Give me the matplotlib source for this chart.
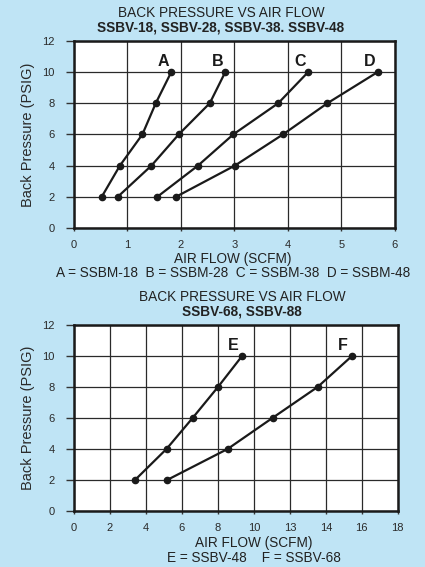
import matplotlib
matplotlib.use("Agg")
import matplotlib.pyplot as plt

plt.rcParams['font.family'] = ['Liberation Sans', 'DejaVu Sans']

# top chart data (SCFM vs PSIG)
pressure = [2, 4, 6, 8, 10]
flow_a = [0.52, 0.86, 1.28, 1.53, 1.82]
flow_b = [0.82, 1.45, 1.96, 2.54, 2.83]
flow_c = [1.56, 2.32, 2.98, 3.82, 4.38]
flow_d = [1.91, 3.01, 3.91, 4.74, 5.68]
top_series = [("A", flow_a), ("B", flow_b), ("C", flow_c), ("D", flow_d)]
top_xticks = [0, 1, 2, 3, 4, 5, 6]

# bottom chart data
flow_e = [3.40, 5.15, 6.60, 8.01, 9.35]
flow_f = [5.19, 8.55, 11.04, 13.55, 15.46]
bot_series = [("E", flow_e), ("F", flow_f)]
bot_xticks = [0, 2, 4, 6, 8, 10, 12, 14, 16, 18]
bot_xlabels = ["0", "2", "4", "6", "8", "10", "13", "14", "16", "18"]

yticks = [0, 2, 4, 6, 8, 10, 12]
bg = "#bfe4f5"

fig = plt.figure(figsize=(4.25, 5.67), dpi=100, facecolor=bg)


def setup(ax, xmax, xticks, xlabels):
    ax.set_facecolor("white")
    ax.set_xlim(0, xmax)
    ax.set_ylim(0, 12)
    ax.set_xticks(xticks)
    ax.set_xticklabels(xlabels)
    ax.set_yticks(yticks)
    ax.grid(True, color="#2a2a2a", linewidth=0.9)
    ax.set_axisbelow(True)
    for s in ax.spines.values():
        s.set_linewidth(1.8)
        s.set_color("#1a1a1a")
    ax.tick_params(axis="y", length=6, width=1, color="#333333", pad=8,
                   labelsize=8, labelcolor="#2a2a2a")
    ax.tick_params(axis="x", length=2.5, width=1, color="#333333", pad=6,
                   labelsize=8, labelcolor="#2a2a2a")
    ax.set_ylabel("Back Pressure (PSIG)", fontsize=10.5, color="#2a2a2a", labelpad=5)


def draw(ax, series, dx):
    for name, flow in series:
        ax.plot(flow, pressure, "-o", color="#1a1a1a", linewidth=1.6,
                markersize=4.5, clip_on=False)
        ax.text(flow[-1] + dx, pressure[-1] + 0.7, name, fontsize=11.5,
                fontweight="bold", color="#1a1a1a", ha="center", va="center")


ax1 = fig.add_axes([0.174, 0.598, 0.755, 0.330])
setup(ax1, 6, top_xticks, [str(t) for t in top_xticks])
draw(ax1, top_series, -0.15)

ax2 = fig.add_axes([0.174, 0.099, 0.762, 0.328])
setup(ax2, 18, bot_xticks, bot_xlabels)
draw(ax2, bot_series, -0.5)

tc = "#222222"
fs = 9.8
fig.text(221 / 425, 1 - 13 / 567, "BACK PRESSURE VS AIR FLOW", ha="center", va="center",
         fontsize=fs, color=tc)
fig.text(221 / 425, 1 - 27 / 567, "SSBV-18, SSBV-28, SSBV-38. SSBV-48", ha="center",
         va="center", fontsize=fs, fontweight="bold", color=tc)
fig.text(233 / 425, 1 - 259 / 567, "AIR FLOW (SCFM)", ha="center", va="center",
         fontsize=fs, color=tc)
fig.text(233 / 425, 1 - 273 / 567, "A = SSBM-18  B = SSBM-28  C = SSBM-38  D = SSBM-48",
         ha="center", va="center", fontsize=fs, color=tc)
fig.text(242 / 425, 1 - 297 / 567, "BACK PRESSURE VS AIR FLOW", ha="center", va="center",
         fontsize=fs, color=tc)
fig.text(242 / 425, 1 - 311 / 567, "SSBV-68, SSBV-88", ha="center", va="center",
         fontsize=fs, fontweight="bold", color=tc)
fig.text(254 / 425, 1 - 543 / 567, "AIR FLOW (SCFM)", ha="center", va="center",
         fontsize=fs, color=tc)
fig.text(254 / 425, 1 - 558 / 567, "E = SSBV-48    F = SSBV-68", ha="center", va="center",
         fontsize=fs, color=tc)

fig.savefig("out.png", dpi=100, facecolor=bg)
